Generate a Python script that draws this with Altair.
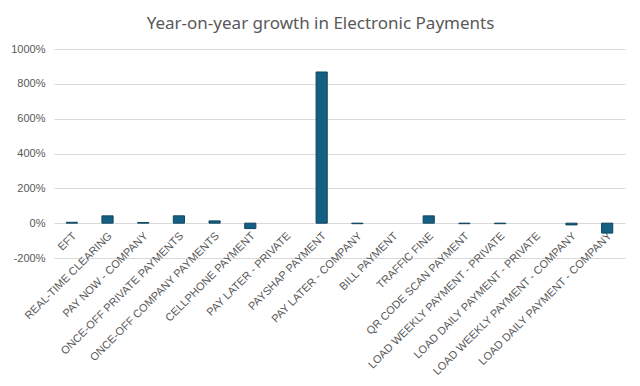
import altair as alt
import pandas as pd

categories = [
    "EFT", "REAL-TIME CLEARING", "PAY NOW - COMPANY", "ONCE-OFF PRIVATE PAYMENTS",
    "ONCE-OFF COMPANY PAYMENTS", "CELLPHONE PAYMENT", "PAY LATER - PRIVATE",
    "PAYSHAP PAYMENT", "PAY LATER - COMPANY", "BILL PAYMENT", "TRAFFIC FINE",
    "QR CODE SCAN PAYMENT", "LOAD WEEKLY PAYMENT - PRIVATE",
    "LOAD DAILY PAYMENT - PRIVATE", "LOAD WEEKLY PAYMENT - COMPANY",
    "LOAD DAILY PAYMENT - COMPANY",
]
growth_pct = [5, 42, 4, 42, 13, -31, 0, 868, -3, 0, 42, -3, -3, 0, -10, -57]
y_ticks = [-200, 0, 200, 400, 600, 800, 1000]

df = pd.DataFrame({"category": categories, "growth": growth_pct})

grey = "#595959"

chart = alt.Chart(df).mark_bar(
    color="#156082", stroke="#0f4761", strokeWidth=1
).encode(
    x=alt.X("category:N", sort=categories, title=None,
            scale=alt.Scale(paddingInner=0.687, paddingOuter=0.343),
            axis=alt.Axis(offset=-35, labelAngle=315, labelAlign="right",
                          labelBaseline="middle", labelPadding=11, labelOffset=3,
                          labelFont="Liberation Sans", labelFontSize=11,
                          labelColor=grey, domain=False, ticks=False,
                          labelOverlap=False, labelLimit=300)),
    y=alt.Y("growth:Q", title=None,
            scale=alt.Scale(domain=[-200, 1000], nice=False),
            axis=alt.Axis(values=y_ticks, labelExpr="datum.value + '%'",
                          labelFont="Liberation Sans", labelFontSize=11,
                          labelColor=grey, labelPadding=9, domain=False,
                          ticks=False, gridColor="#d9d9d9", gridWidth=1)),
    strokeOpacity=alt.condition("datum.growth == 0", alt.value(0), alt.value(1)),
).properties(
    width=571, height=209,
    title=alt.TitleParams("Year-on-year growth in Electronic Payments",
                          font="Noto Sans", fontSize=17, fontWeight="normal",
                          color=grey, anchor="middle", dx=-19, offset=10),
    autosize=alt.AutoSizeParams(type="none"),
    padding={"left": 46, "top": 41, "right": 7, "bottom": 120},
).configure_view(stroke=None)

chart.save("out.html", embed_options={"renderer": "svg", "actions": False})
